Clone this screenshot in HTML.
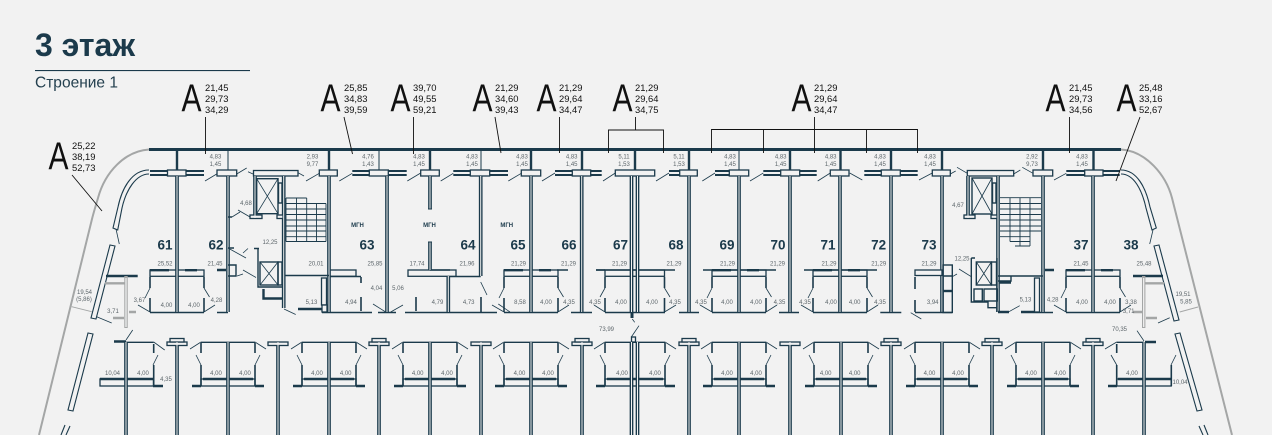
<!DOCTYPE html>
<html lang="ru"><head><meta charset="utf-8"><title>3 этаж</title>
<style>
html,body{margin:0;padding:0;background:#f2f2f2}
svg{display:block;font-family:"Liberation Sans","Noto Sans CJK SC",sans-serif}
.s text{font-size:6px;fill:#5d666b;text-anchor:middle}
.n text{font-size:9.4px;fill:#111}
.u text{font-size:13.5px;font-weight:bold;fill:#1b3a4b;text-anchor:middle}
.a text{font-size:39px;fill:#111}
.m text{font-size:6px;font-weight:bold;fill:#1b3a4b;text-anchor:middle}
.t{stroke:#1b3a4b;stroke-width:.8;fill:none}
.w{stroke:#1b3a4b;stroke-width:1.4;fill:none}
.b{stroke:#1b3a4b;stroke-width:2.4;fill:none}
.g{stroke:#a4a6a6;fill:none}
.k{stroke:#111;stroke-width:.9;fill:none}
.r{fill:#f2f2f2;stroke:#1b3a4b;stroke-width:1.3}
</style></head><body>
<svg xmlns="http://www.w3.org/2000/svg" width="1272" height="435" viewBox="0 0 1272 435">
<defs>
<path id="v" d="M177 176V312M228 176V312M329 176V312M387 176V312M430 176V209M430 242V270M480.7 176V276M531 176V312M581.7 176V312M631.5 176V312M637.5 176V312M689 176V312M739 176V312M790 176V312M840 176V312M891 176V312M942 176V312M1043 176V312M1093 176V312M255 176V218M283.7 176V308M968 176V218M998 176V312M448.3 276V312M126 342V435M177 342V435M228 342V435M278 342V435M329 342V435M379 342V435M430 342V435M481 342V435M531 342V435M582 342V435M631.5 342V435M637.5 342V435M689 342V435M739 342V435M790 342V435M841 342V435M891 342V435M942 342V435M992 342V435M1043 342V435M1093 342V435M1144 342V435"/>
<g id="ub">
<rect class="r" x="-27" y="270" width="54" height="6.3"/>
<path class="b" d="M-27 270.2H-8M8 270.2H20"/>
<path class="w" d="M-27 312.5H27"/>
<path class="b" style="stroke-width:1.6" d="M-27 277V288M-27 298V312M27 277V288M27 298V312"/>
<path class="t" d="M-27 288L-32 298M-27 312L-39 305M27 288L32.500 297M27 312L38 305"/>
</g>
<g id="lb">
<rect class="r" x="-27" y="379" width="54" height="7"/>
<path class="w" d="M-27 342.300H27"/>
<path class="b" d="M-25 379H25M-36 386H-27M27 386H36"/>
<path class="b" style="stroke-width:1.6" d="M-27 343V353M-27 365V386M27 343V353M27 365V386"/>
<path class="t" d="M-27 342L-38 349M-32 355L-27 365M27 342L38 349M32 355L27 365"/>
</g>
</defs>

<text x="35" y="56" font-size="32" font-weight="bold" fill="#1b3a4b" textLength="100" lengthAdjust="spacingAndGlyphs">3 этаж</text>
<rect x="35" y="70" width="215" height="1.100" fill="#1b3a4b"/>
<text x="35" y="87.500" font-size="16" fill="#24404f" textLength="83" lengthAdjust="spacingAndGlyphs">Строение 1</text>

<path class="g" style="stroke-width:2" d="M149 149.500C125 151 105 172 98 198C95 208 93 215 92 219L39 435"/>
<path class="g" style="stroke-width:2" d="M1121 149.500C1146 151 1166 175 1172 198L1232 435"/>

<path class="t" style="stroke-width:1.100" d="M149 170C132 170 122 188 118 207L113 228L117.700 230L122 208C126 190 136 174 149 174"/>
<path class="t" style="stroke-width:1.100" d="M1121 170C1137 170 1146 188 1150 207L1156.300 228L1152 230L1146 208C1142 190 1134 174 1121 174"/>
<path class="t" style="stroke-width:1.100" d="M110 245L91 318L96 319L115 246ZM88 333L68 410L73 411L93 334ZM65 425L61 435M70 426L66 435"/>
<path class="t" style="stroke-width:1.100" d="M1159 245L1179 320L1174 321L1154 246ZM1180 333L1202 410L1197 411L1175 334ZM1204 425L1208 435M1199 426L1203 435"/>

<g>
<use href="#ub" x="177"/><use href="#ub" x="531"/><use href="#ub" x="739"/><use href="#ub" x="840"/><use href="#ub" x="1093"/>
<use href="#lb" x="228"/><use href="#lb" x="329"/><use href="#lb" x="430"/><use href="#lb" x="531"/><use href="#lb" x="739"/><use href="#lb" x="841"/><use href="#lb" x="942"/><use href="#lb" x="1043"/>
</g>
<rect class="r" x="605" y="270" width="59.500" height="6.300"/>
<path class="w" d="M596 270H675M605 312.500H665"/>
<path class="b" style="stroke-width:1.600" d="M605 277V288M605 298V312M664.500 277V288M664.500 298V312"/>
<path class="t" d="M605 288L600 297M605 312L594 305M664.500 288L670 297M664.500 312L676 305"/>
<rect class="r" x="605" y="379" width="60" height="7"/>
<path class="w" d="M605 342.300H665"/>
<path class="b" d="M596 386H605M665 386H675M607 379H663"/>
<path class="b" style="stroke-width:1.600" d="M605 343V353M605 365V386M665 343V353M665 365V386"/>
<path class="t" d="M605 342L594 349M600 355L605 365M665 342L676 349M670 355L665 365"/>

<path class="w" d="M557 270H568M703 270H776M804 270H877M596 270H605"/>
<rect class="r" x="329" y="270" width="27" height="6.300"/>
<path class="w" d="M329 276.500H361M322 312.500H372M405 312.500H497M448 276.500H480.700"/>
<rect class="r" x="408" y="270" width="48" height="6.300"/>
<path class="b" style="stroke-width:1.600" d="M361 277V283M361 297V311M416 297V311M481 297V312M430 270H450"/>
<path class="t" d="M373 304L385.700 312M390.700 312L403 305M480.700 282L487 295M498.300 304L510 312"/>
<path class="w" d="M378 312.500H396M571 312.500H592M679 312.500H699M779 312.500H799M880.300 312.500H901.300M217 312.500H228M1035 312.500H1053"/>

<rect class="r" x="100" y="379" width="53.500" height="7"/>
<path class="w" d="M126 342.300H153.700"/>
<path class="b" d="M100 379H153M153 386H163M114 341.500H126"/>
<path class="b" style="stroke-width:1.600" d="M153.700 344V353M153.700 365V386"/>
<path class="t" d="M153.700 342L164.700 350M158 355L153 365M126 340L132.700 330M96.700 316.700L111.700 323M116 229L119.300 244"/>

<rect class="r" x="1116.700" y="379" width="54.500" height="7"/>
<path class="w" d="M1116.700 342.300H1144"/>
<path class="b" d="M1108 386H1117M1118 379H1171M1145 342H1156"/>
<path class="b" style="stroke-width:1.600" d="M1116.700 344V353M1116.700 365V386M1171.300 365V386"/>
<path class="t" d="M1116.700 342L1105 349M1111 355L1116.700 365M1176 355L1171 365M1137 330.700L1144 341M1158 323L1169.700 317.700M1153 230L1149.700 244"/>

<path class="b" d="M106 276H137.700M1133 276H1163"/>
<path class="g" style="stroke-width:3.400" d="M126 276V328M1143.700 276V328"/>
<path style="stroke:#f2f2f2;stroke-width:1.300" d="M126 278V327M1143.700 278V327"/>
<path class="g" style="stroke-width:2.400" d="M105 283.300H125M129 312H136M113 318H124M1145 283.300H1164M1133 312H1143M1146 318H1157"/>
<path class="g" style="stroke-width:1" d="M71.700 306.700L91.700 311.700M1179.700 312L1198 307"/>

<use href="#v" stroke="#1b3a4b" stroke-width="3.700" fill="none"/>

<path d="M150 171H167M150 175H167M186 171H204M186 175H204M352.300 171H369M352.300 175H369M388 171H406.700M388 175H406.700M453.300 171H470.700M453.300 175H470.700M489 171H508M489 175H508M555 171H572.300M555 175H572.300M590.700 171H601.700M590.700 175H601.700M669 171H679.700M669 175H679.700M715 171H729.300M715 175H729.300M763.300 171H780.700M763.300 175H780.700M799.700 171H816.700M799.700 175H816.700M864.300 171H881.300M864.300 175H881.300M900.300 171H917.700M900.300 175H917.700M1066.300 171H1084.700M1066.300 175H1084.700M1103 171H1119.700M1103 175H1119.700" stroke="#1b3a4b" stroke-width="2" fill="none"/>

<g class="r">
<rect x="167.500" y="170" width="18.500" height="6"/><rect x="217" y="170" width="19.700" height="6"/><rect x="319.300" y="170" width="18" height="6"/><rect x="369.300" y="170" width="19" height="6"/><rect x="420.700" y="170" width="18.600" height="6"/><rect x="470.300" y="170" width="19.400" height="6"/><rect x="521.300" y="170" width="19.400" height="6"/><rect x="572.300" y="170" width="18.400" height="6"/><rect x="615.300" y="170" width="39.400" height="6"/><rect x="679.700" y="170" width="17.600" height="6"/><rect x="729.300" y="170" width="19.400" height="6"/><rect x="780.700" y="170" width="19" height="6"/><rect x="830.300" y="170" width="18.700" height="6"/><rect x="881.300" y="170" width="19" height="6"/><rect x="932.300" y="170" width="18" height="6"/><rect x="1033" y="170" width="19.700" height="6"/><rect x="1084.700" y="170" width="18.300" height="6"/>
<rect x="253.500" y="170.500" width="44.500" height="5.500"/><rect x="967.300" y="170.500" width="46.400" height="5.500"/>
<rect x="167" y="342" width="20" height="3.500"/><rect x="268" y="342" width="20" height="3.500"/><rect x="369" y="342" width="20" height="3.500"/><rect x="471" y="342" width="20" height="3.500"/><rect x="572" y="342" width="20" height="3.500"/><rect x="679" y="342" width="20" height="3.500"/><rect x="780" y="342" width="20" height="3.500"/><rect x="881" y="342" width="20" height="3.500"/><rect x="982" y="342" width="20" height="3.500"/><rect x="1083" y="342" width="20" height="3.500"/>
<rect x="170" y="338.500" width="14" height="3.500"/><rect x="372" y="338.500" width="14" height="3.500"/><rect x="575" y="338.500" width="14" height="3.500"/><rect x="682" y="338.500" width="14" height="3.500"/><rect x="884" y="338.500" width="14" height="3.500"/><rect x="985" y="338.500" width="14" height="3.500"/><rect x="1086" y="338.500" width="14" height="3.500"/>
<rect x="631.500" y="337" width="4" height="5"/>
<rect x="250" y="215" width="12" height="3.500"/><rect x="277" y="215" width="6" height="3.500"/><rect x="964" y="215" width="11" height="3.500"/><rect x="991" y="215" width="6" height="3.500"/>
</g>

<use href="#v" stroke="#f2f2f2" stroke-width="1" fill="none"/>
<path class="w" style="stroke-width:1" d="M428 209H432M428 242H432"/>
<path class="b" style="stroke-width:3" d="M632 312V318"/>

<rect x="149" y="148" width="972" height="3" fill="#1b3a4b"/>
<path class="b" d="M177 150V170M329 150V170M430 150V170M531 150V170M582 150V170M635 150V170M689 150V170M790 150V170M840.500 150V170M891 150V170M942 150V170M1043 150V170M1093.500 150V170"/>
<path class="w" style="stroke-width:1" d="M228 150V170M379 150V170M481 150V170M739 150V170"/>
<path class="k" d="M205.500 117V154M344 117L352.500 154M413.500 117V154M495 117L501 153M559.500 117V153M635.500 117V130M608.500 153V130H663.500V153M711.500 153V129.500H917.500V153M763.500 129.500V153M814.500 117V153M866.500 129.500V153M1069.500 117V153M1140 117L1116 181M72 175L102 211"/>

<path class="t" d="M205 181L216.700 174M236.700 174L246.700 168M248 171.700L253 174M298 172.700L304 176M306 181L319.300 173.300M339.300 181L352.300 173.300M407.300 181L420.700 173M440.700 181L453.300 173.300M508.300 181L521.300 173.300M542 181L555 173M603 181L615.300 173M656 181L669 173M702.300 181L715 173M750 181L763.300 173M817.700 181L830.300 173M849.700 173L862.300 180M919 180L932.300 173M950.300 174L955.700 171M957 167.300L967.300 173.300M1013.700 174L1020.300 170M1022.300 167.300L1033 173.300M1054 180L1066.300 173.300"/>

<rect class="w" x="256.700" y="178.700" width="21.300" height="35"/>
<path class="t" d="M256.700 178.700L278 213.700M278 178.700L256.700 213.700"/>
<rect class="w" x="278.500" y="183" width="3.500" height="20"/>
<path class="w" style="stroke-width:.9" d="M286 198H306.700M286 203.500H326M286 209H326M286 214.500H326M286 220H326M286 226H326M286 231H326M286 236.700H326M286 241.500H326M296.500 198V241.500M306.700 198V241.500M316.500 203.500V241.500M286 198V241.500M326 203.500V241.500"/>
<path class="w" d="M285 275.500H329M228 276H236V265H228"/>
<rect class="r" x="321.500" y="278" width="5" height="27"/>
<rect class="r" x="322" y="305" width="5" height="7"/>
<path class="b" d="M298 309H322M263.500 289V298.500H283M217 270H226"/>
<path class="t" d="M284 309L295.700 314.500M228 248L246 258M243 253L248 248.500M243 270L256 277.500M237 276L243 274M232 217L240 212M238 210L250 217"/>
<path class="w" d="M254 248.500H259M258 248.500V287H283M228 248H234M228 217H232"/>
<rect class="w" x="260" y="262" width="18" height="23"/>
<path class="t" d="M260 262L278 285M278 262L260 285"/>
<rect class="w" x="278" y="262" width="4" height="23"/>

<rect class="w" x="972" y="178" width="20" height="36"/>
<path class="t" d="M972 178L992 214M992 178L972 214"/>
<rect class="w" x="992.500" y="183" width="3.500" height="20"/>
<path class="w" style="stroke-width:.9" d="M1000 197.700H1041M1000 203.500H1041M1000 209H1041M1000 214.500H1041M1000 220H1041M1000 226H1041M1000 231H1041M1000 236.700H1030M1010 241.500H1030M1015 246H1030M1010 197.700V241.500M1020 197.700V246M1030 197.700V246"/>
<path class="w" d="M998 276H1043M998 281H1011V276"/>
<path class="b" d="M999 282.500H1011M1021 312H1035M998 312H1009M1045 270H1054"/>
<rect class="r" x="1034.500" y="278" width="5" height="34"/>
<path class="t" d="M1009 311.700L1019.700 305.700"/>
<rect class="w" x="976.300" y="262" width="15" height="23"/>
<path class="t" d="M976.300 262L991.300 285M991.300 262L976.300 285"/>
<rect class="w" x="991.500" y="262" width="5" height="23"/>
<path class="w" d="M971.300 258H975M971.300 258V302H988V307.700H997M997 258V312"/>
<rect class="w" x="974" y="289" width="8.300" height="12"/>
<rect class="w" x="984" y="289" width="13.300" height="12"/>
<rect class="r" x="915" y="270" width="27" height="5.500"/>
<rect class="w" x="943" y="265" width="9.300" height="47.500"/>
<path class="w" d="M943 276H952M915 312.500H952"/>
<path class="b" d="M943 291H952"/>
<path class="b" style="stroke-width:1.600" d="M915 277V289M915 300V312"/>
<path class="t" d="M910.700 312.700L921.300 319M952.300 276.700L957 274M959 269L971.300 276.700"/>

<g class="a">
<text x="181.500" y="111.700" textLength="20" lengthAdjust="spacingAndGlyphs">A</text>
<text x="320.500" y="111.700" textLength="20" lengthAdjust="spacingAndGlyphs">A</text>
<text x="390.500" y="111.700" textLength="20" lengthAdjust="spacingAndGlyphs">A</text>
<text x="472.500" y="111.700" textLength="20" lengthAdjust="spacingAndGlyphs">A</text>
<text x="536.500" y="111.700" textLength="20" lengthAdjust="spacingAndGlyphs">A</text>
<text x="612.500" y="111.700" textLength="20" lengthAdjust="spacingAndGlyphs">A</text>
<text x="791.500" y="111.700" textLength="20" lengthAdjust="spacingAndGlyphs">A</text>
<text x="1045.500" y="111.700" textLength="20" lengthAdjust="spacingAndGlyphs">A</text>
<text x="1116.500" y="111.700" textLength="20" lengthAdjust="spacingAndGlyphs">A</text>
<text x="48.500" y="169.500" textLength="20" lengthAdjust="spacingAndGlyphs">A</text>
</g>
<g class="n">
<text x="205" y="91">21,45</text><text x="205" y="102">29,73</text><text x="205" y="113">34,29</text>
<text x="344" y="91">25,85</text><text x="344" y="102">34,83</text><text x="344" y="113">39,59</text>
<text x="413" y="91">39,70</text><text x="413" y="102">49,55</text><text x="413" y="113">59,21</text>
<text x="495" y="91">21,29</text><text x="495" y="102">34,60</text><text x="495" y="113">39,43</text>
<text x="559" y="91">21,29</text><text x="559" y="102">29,64</text><text x="559" y="113">34,47</text>
<text x="635" y="91">21,29</text><text x="635" y="102">29,64</text><text x="635" y="113">34,75</text>
<text x="814" y="91">21,29</text><text x="814" y="102">29,64</text><text x="814" y="113">34,47</text>
<text x="1069" y="91">21,45</text><text x="1069" y="102">29,73</text><text x="1069" y="113">34,56</text>
<text x="1139" y="91">25,48</text><text x="1139" y="102">33,16</text><text x="1139" y="113">52,67</text>
<text x="72" y="149">25,22</text><text x="72" y="160">38,19</text><text x="72" y="171">52,73</text>
</g>

<g class="u">
<text x="165" y="249.500">61</text><text x="216" y="249.500">62</text><text x="367" y="249.500">63</text><text x="468" y="249.500">64</text><text x="518" y="249.500">65</text><text x="569" y="249.500">66</text><text x="620.500" y="249.500">67</text><text x="676" y="249.500">68</text><text x="727" y="249.500">69</text><text x="778" y="249.500">70</text><text x="828" y="249.500">71</text><text x="878.700" y="249.500">72</text><text x="929" y="249.500">73</text><text x="1081" y="249.500">37</text><text x="1131" y="249.500">38</text>
</g>
<g class="m"><text x="357.500" y="227">МГН</text><text x="429.500" y="227">МГН</text><text x="506.700" y="227">МГН</text></g>

<g class="s">
<text x="215.500" y="158.300">4,83</text><text x="215.500" y="166">1,45</text>
<text x="312.500" y="158.300">2,93</text><text x="312.500" y="166">9,77</text>
<text x="368" y="158.300">4,76</text><text x="368" y="166">1,43</text>
<text x="419" y="158.300">4,83</text><text x="419" y="166">1,45</text>
<text x="472" y="158.300">4,83</text><text x="472" y="166">1,45</text>
<text x="522" y="158.300">4,83</text><text x="522" y="166">1,45</text>
<text x="571.700" y="158.300">4,83</text><text x="571.700" y="166">1,45</text>
<text x="624" y="158.300">5,11</text><text x="624" y="166">1,53</text>
<text x="679" y="158.300">5,11</text><text x="679" y="166">1,53</text>
<text x="730" y="158.300">4,83</text><text x="730" y="166">1,45</text>
<text x="780.700" y="158.300">4,83</text><text x="780.700" y="166">1,45</text>
<text x="830.700" y="158.300">4,83</text><text x="830.700" y="166">1,45</text>
<text x="880" y="158.300">4,83</text><text x="880" y="166">1,45</text>
<text x="930" y="158.300">4,83</text><text x="930" y="166">1,45</text>
<text x="1032" y="158.300">2,92</text><text x="1032" y="166">9,73</text>
<text x="1082" y="158.300">4,83</text><text x="1082" y="166">1,45</text>

<text x="165" y="265.600">25,52</text><text x="215" y="265.600">21,45</text><text x="316" y="265.600">20,01</text><text x="375" y="265.600">25,85</text><text x="417" y="265.600">17,74</text><text x="467" y="265.600">21,96</text><text x="518.500" y="265.600">21,29</text><text x="568.500" y="265.600">21,29</text><text x="619.500" y="265.600">21,29</text><text x="674" y="265.600">21,29</text><text x="727.500" y="265.600">21,29</text><text x="777.500" y="265.600">21,29</text><text x="829" y="265.600">21,29</text><text x="878.700" y="265.600">21,29</text><text x="929" y="265.600">21,29</text><text x="1081" y="265.600">21,45</text><text x="1144" y="265.600">25,48</text>
<text x="270" y="244">12,25</text><text x="962" y="260.700">12,25</text><text x="246" y="205">4,68</text><text x="958" y="207">4,67</text>

<text x="139.500" y="302">3,67</text><text x="166.500" y="307">4,00</text><text x="194" y="307">4,00</text><text x="216.500" y="302">4,28</text><text x="113" y="313">3,71</text><text x="311.500" y="304">5,13</text><text x="351" y="304">4,94</text><text x="376.500" y="290">4,04</text><text x="398" y="290">5,06</text><text x="437.500" y="304">4,79</text><text x="468.700" y="304">4,73</text><text x="520" y="304">8,58</text><text x="546" y="304">4,00</text><text x="569" y="304">4,35</text><text x="595" y="304">4,35</text><text x="621" y="304">4,00</text><text x="652" y="304">4,00</text><text x="675" y="304">4,35</text><text x="701" y="304">4,35</text><text x="727" y="304">4,00</text><text x="756" y="304">4,00</text><text x="779.500" y="304">4,35</text><text x="805" y="304">4,35</text><text x="831" y="304">4,00</text><text x="854.700" y="304">4,00</text><text x="880" y="304">4,35</text><text x="932.700" y="304">3,94</text><text x="1025.500" y="301.500">5,13</text><text x="1052.700" y="301.500">4,28</text><text x="1082" y="304">4,00</text><text x="1110" y="304">4,00</text><text x="1131" y="304">3,38</text><text x="1128.700" y="313">3,71</text>
<text x="84.500" y="294">19,54</text><text x="84" y="301">(5,86)</text><text x="1183" y="296">19,51</text><text x="1186" y="303.600">5,85</text>
<text x="606.500" y="331">73,99</text><text x="1119.500" y="331">70,35</text>

<text x="112.500" y="375">10,04</text><text x="143" y="375">4,00</text><text x="166" y="381">4,35</text><text x="216" y="375">4,00</text><text x="245" y="375">4,00</text><text x="317" y="375">4,00</text><text x="345.700" y="375">4,00</text><text x="417.700" y="375">4,00</text><text x="447" y="375">4,00</text><text x="519.500" y="375">4,00</text><text x="548" y="375">4,00</text><text x="622" y="375">4,00</text><text x="655" y="375">4,00</text><text x="727" y="375">4,00</text><text x="756" y="375">4,00</text><text x="825.700" y="375">4,00</text><text x="854.700" y="375">4,00</text><text x="929.500" y="375">4,00</text><text x="958" y="375">4,00</text><text x="1031" y="375">4,00</text><text x="1060" y="375">4,00</text><text x="1132" y="375">4,00</text><text x="1180" y="384">10,04</text>
</g>
<path class="t" d="M632.300 319L634.700 322.300M639 325.700L631.300 337"/>
</svg>
</body></html>
